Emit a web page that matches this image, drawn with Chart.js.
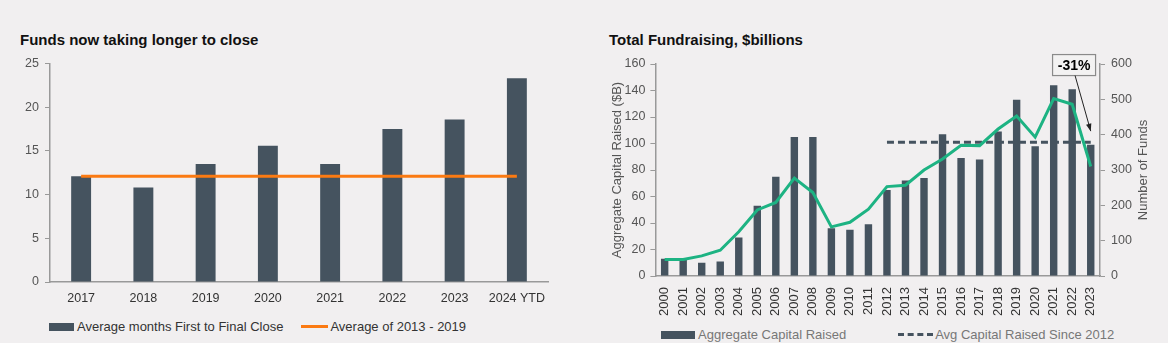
<!DOCTYPE html>
<html>
<head>
<meta charset="utf-8">
<script src="https://cdn.jsdelivr.net/npm/chart.js@4"></script>
<style>
  body { margin: 0; background: #f1eff0; font-family: 'Liberation Sans', Arial, sans-serif; }
  #wrap { position: relative; width: 1168px; height: 343px; overflow: hidden; }
  .title { position: absolute; font-weight: bold; font-size: 15px; color: #111; }
  .cv { position: absolute; }
  .leg { position: absolute; font-size: 13px; display: flex; align-items: center; white-space: nowrap; }
  .box { display: inline-block; height: 8px; background: #45535f; margin-right: 3px; }
</style>
</head>
<body>
<div id="wrap">
  <div class="title" style="left:20px; top:31px;">Funds now taking longer to close</div>
  <div class="title" style="left:609px; top:31px;">Total Fundraising, $billions</div>
  <div class="cv" style="left:0; top:50px; width:580px; height:260px;"><canvas id="leftChart"></canvas></div>
  <div class="cv" style="left:600px; top:50px; width:568px; height:270px;"><canvas id="rightChart"></canvas></div>

  <div class="leg" style="left:49px; top:319px; color:#333;">
    <span class="box" style="width:25px;"></span>Average months First to Final Close
    <span style="display:inline-block; width:27px; height:3px; background:#fb7a12; margin:0 2px 0 18px;"></span>Average of 2013 - 2019
  </div>
  <div class="leg" style="left:661px; top:327px; color:#777;">
    <span class="box" style="width:34px;"></span>Aggregate Capital Raised
    <span style="display:inline-block; width:35px; height:0; border-top:3px dashed #45535f; margin:0 2px 0 52px;"></span>Avg Capital Raised Since 2012
  </div>
</div>
<script>
// left chart data
var yearsLeft = ['2017', '2018', '2019', '2020', '2021', '2022', '2023', '2024 YTD'];
var monthsToClose = [12.1, 10.8, 13.5, 15.6, 13.5, 17.5, 18.6, 23.3];
var avg2013to2019 = [12.1, 12.1, 12.1, 12.1, 12.1, 12.1, 12.1, 12.1];

// right chart data
var yearsRight = ['2000', '2001', '2002', '2003', '2004', '2005', '2006', '2007', '2008', '2009', '2010', '2011',
    '2012', '2013', '2014', '2015', '2016', '2017', '2018', '2019', '2020', '2021', '2022', '2023'];
var capitalRaised = [13, 12, 10, 11, 29, 53, 75, 105, 105, 36, 35, 39,
    65, 72, 74, 107, 89, 88, 109, 133, 98, 144, 141, 99];
var numberOfFunds = [47, 47, 57, 73, 125, 187, 208, 277, 236, 139, 152, 189,
    253, 257, 300, 331, 370, 369, 416, 453, 393, 502, 486, 310];
var avgSince2012 = [null, null, null, null, null, null, null, null, null, null, null, null,
    101, 101, 101, 101, 101, 101, 101, 101, 101, 101, 101, 101];
var changeLabel = '-31%';

var barColor = '#45535f';
var fontFam = "'Liberation Sans', Arial, sans-serif";

Chart.defaults.font.family = fontFam;
Chart.defaults.color = '#444';

var ctx = document.getElementById('leftChart');
var leftChart = new Chart(ctx, {
    type: 'bar',
    data: {
        labels: yearsLeft,
        datasets: [{
            type: 'line',
            label: 'Average of 2013 - 2019',
            data: avg2013to2019,
            borderColor: '#fb7a12',
            borderWidth: 3,
            pointRadius: 0,
            order: 0
        }, {
            label: 'Average months First to Final Close',
            data: monthsToClose,
            backgroundColor: barColor,
            categoryPercentage: 1,
            barPercentage: 0.32,
            order: 1
        }]
    },
    options: {
        responsive: true,
        maintainAspectRatio: false,
        animation: false,
        layout: { padding: { top: 12, right: 32, left: 0, bottom: 0 } },
        plugins: { legend: { display: false }, tooltip: { enabled: false } },
        scales: {
            x: {
                grid: { display: false },
                border: { color: '#999', width: 1.5 },
                ticks: { font: { size: 12.5 }, color: '#333', padding: 1, maxRotation: 0, minRotation: 0, autoSkip: false },
                afterFit: function (s) { s.height = 28; }
            },
            y: {
                min: 0, max: 25,
                ticks: { stepSize: 5, font: { size: 12.5 }, color: '#555', padding: 6 },
                grid: { drawOnChartArea: false, tickLength: 5, color: '#999' },
                border: { color: '#999', width: 1.5 },
                afterFit: function (s) { s.width = 50; }
            }
        }
    }
});

// annotation box with arrow, plus right axis title (reads bottom to top)
var annotate = {
    id: 'annotate',
    afterDatasetsDraw: function (chart) {
        var c = chart.ctx;
        var x = chart.scales.x, yR = chart.scales.y1;
        var cx = x.getPixelForValue(22.1);
        var cy = yR.getPixelForValue(597);
        var w = 43, h = 21;
        c.save();
        c.fillStyle = '#f3f2f2';
        c.strokeStyle = '#8a8a8a';
        c.lineWidth = 1.2;
        c.fillRect(cx - w / 2, cy - h / 2, w, h);
        c.strokeRect(cx - w / 2, cy - h / 2, w, h);
        c.fillStyle = '#000';
        c.font = 'bold 14px ' + fontFam;
        c.textAlign = 'center';
        c.textBaseline = 'middle';
        c.fillText(changeLabel, cx, cy + 1);
        // arrow
        var sx = cx + 1, sy = cy + h / 2;
        var ex = x.getPixelForValue(23), ey = yR.getPixelForValue(410);
        c.strokeStyle = '#222';
        c.lineWidth = 1;
        c.beginPath();
        c.moveTo(sx, sy);
        c.lineTo(ex, ey);
        c.stroke();
        var ang = Math.atan2(ey - sy, ex - sx);
        c.fillStyle = '#222';
        c.beginPath();
        c.moveTo(ex, ey);
        c.lineTo(ex - 8 * Math.cos(ang - 0.35), ey - 8 * Math.sin(ang - 0.35));
        c.lineTo(ex - 8 * Math.cos(ang + 0.35), ey - 8 * Math.sin(ang + 0.35));
        c.closePath();
        c.fill();
        // right title
        c.translate(chart.width - 25, (chart.chartArea.top + chart.chartArea.bottom) / 2);
        c.rotate(-Math.PI / 2);
        c.fillStyle = '#555';
        c.font = '13px ' + fontFam;
        c.fillText('Number of Funds', 0, 0);
        c.restore();
    }
};

var ctb = document.getElementById('rightChart');
var rightChart = new Chart(ctb, {
    type: 'bar',
    data: {
        labels: yearsRight,
        datasets: [{
            type: 'line',
            label: 'Number of Funds',
            data: numberOfFunds,
            yAxisID: 'y1',
            borderColor: '#1db383',
            borderWidth: 3,
            pointRadius: 0,
            tension: 0,
            order: 0
        }, {
            type: 'line',
            label: 'Avg Capital Raised Since 2012',
            data: avgSince2012,
            yAxisID: 'y',
            borderColor: '#45535f',
            borderWidth: 3,
            borderDash: [7, 4],
            pointRadius: 0,
            order: 1
        }, {
            label: 'Aggregate Capital Raised',
            data: capitalRaised,
            yAxisID: 'y',
            backgroundColor: barColor,
            categoryPercentage: 1,
            barPercentage: 0.4,
            order: 2
        }]
    },
    options: {
        responsive: true,
        maintainAspectRatio: false,
        animation: false,
        layout: { padding: { top: 14, right: 0, left: 0, bottom: 0 } },
        plugins: { legend: { display: false }, tooltip: { enabled: false } },
        scales: {
            x: {
                grid: { display: false },
                border: { color: '#999', width: 1.5 },
                ticks: { font: { size: 13 }, color: '#333', minRotation: 90, maxRotation: 90, padding: 3, autoSkip: false },
                afterFit: function (s) { s.height = 44; }
            },
            y: {
                position: 'left',
                min: 0, max: 160,
                ticks: { stepSize: 20, font: { size: 12.5 }, color: '#555', padding: 5 },
                grid: { drawOnChartArea: false, tickLength: 5, color: '#999' },
                border: { color: '#999', width: 1.5 },
                title: { display: true, text: 'Aggregate Capital Raised ($B)', font: { size: 13 }, color: '#555', padding: { top: 10, bottom: 2 } },
                afterFit: function (s) { s.width = 55.4; }
            },
            y1: {
                position: 'right',
                min: 0, max: 600,
                ticks: { stepSize: 100, font: { size: 12.5 }, color: '#555', padding: 6 },
                grid: { drawOnChartArea: false, tickLength: 5, color: '#999' },
                border: { color: '#999', width: 1.5 },
                afterFit: function (s) { s.width = 68; }
            }
        }
    },
    plugins: [annotate]
});
</script>
</body>
</html>
